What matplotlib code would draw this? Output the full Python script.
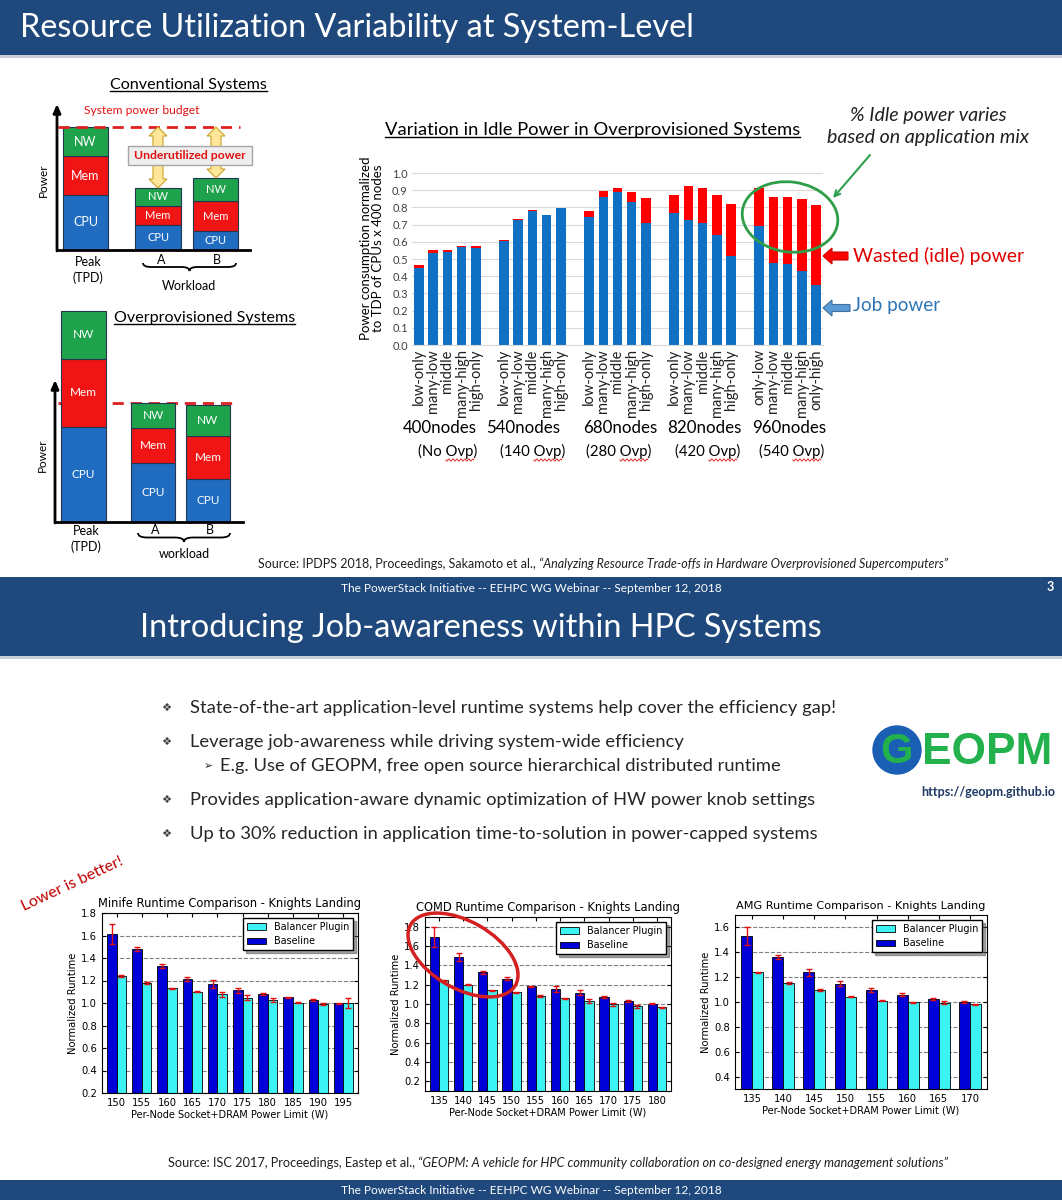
import numpy as np
import matplotlib.pyplot as plt
from matplotlib.patches import Rectangle, Ellipse, Polygon, Circle, PathPatch
from matplotlib.path import Path

W, H = 1062, 1200
SANS = ['Lato', 'DejaVu Sans']
BAND = '#1F497D'

# --- slide 1: conceptual power stacks (arbitrary units) ---
parts = ['CPU', 'Mem', 'NW']
part_colors = ['#1F6CC0', '#F01414', '#1FA24C']
conv_cpu = [55, 25, 19]
conv_mem = [39, 19, 30]
conv_nw = [29, 18, 23]
conv_budget = 123
ovp_cpu = [95, 59, 43]
ovp_mem = [68, 35, 43]
ovp_nw = [48, 25, 31]
ovp_budget = 119

# --- slide 1: idle power in overprovisioned systems ---
mixes = ['low-only', 'many-low', 'middle', 'many-high', 'high-only']
mixes_960 = ['only-low', 'many-low', 'middle', 'many-high', 'only-high']
node_groups = ['400nodes', '540nodes', '680nodes', '820nodes', '960nodes']
ovp_groups = ['(No Ovp)', '(140 Ovp)', '(280 Ovp)', '(420 Ovp)', '(540 Ovp)']
job_power = [0.447, 0.532, 0.538, 0.569, 0.563,
             0.602, 0.726, 0.779, 0.755, 0.794,
             0.746, 0.858, 0.889, 0.833, 0.709,
             0.765, 0.728, 0.709, 0.639, 0.518,
             0.693, 0.476, 0.470, 0.433, 0.350]
idle_power = [0.017, 0.021, 0.015, 0.008, 0.014,
              0.010, 0.008, 0.007, 0.002, 0.004,
              0.031, 0.039, 0.026, 0.056, 0.143,
              0.109, 0.194, 0.202, 0.235, 0.301,
              0.222, 0.386, 0.388, 0.416, 0.462]

# --- slide 2: runtime comparisons ---
minife_w = [150, 155, 160, 165, 170, 175, 180, 185, 190, 195]
minife_base = [1.611, 1.481, 1.328, 1.213, 1.168, 1.115, 1.077, 1.050, 1.027, 0.997]
minife_base_err = [0.09, 0.02, 0.015, 0.015, 0.035, 0.022, 0.01, 0.005, 0.008, 0.005]
minife_bal = [1.239, 1.180, 1.130, 1.100, 1.077, 1.047, 1.027, 1.003, 0.991, 0.997]
minife_bal_err = [0.008, 0.008, 0.005, 0.005, 0.02, 0.02, 0.015, 0.005, 0.005, 0.045]

comd_w = [135, 140, 145, 150, 155, 160, 165, 170, 175, 180]
comd_base = [1.690, 1.485, 1.327, 1.262, 1.183, 1.159, 1.115, 1.077, 1.029, 1.005]
comd_base_err = [0.105, 0.04, 0.015, 0.015, 0.007, 0.03, 0.025, 0.01, 0.01, 0.005]
comd_bal = [1.245, 1.200, 1.142, 1.122, 1.084, 1.060, 1.033, 0.998, 0.978, 0.964]
comd_bal_err = [0.008, 0.008, 0.008, 0.005, 0.01, 0.005, 0.02, 0.015, 0.015, 0.008]

amg_w = [135, 140, 145, 150, 155, 160, 165, 170]
amg_base = [1.530, 1.364, 1.238, 1.147, 1.096, 1.059, 1.024, 1.000]
amg_base_err = [0.075, 0.015, 0.03, 0.02, 0.015, 0.01, 0.01, 0.005]
amg_bal = [1.238, 1.155, 1.099, 1.043, 1.011, 0.997, 0.995, 0.981]
amg_bal_err = [0.005, 0.007, 0.008, 0.005, 0.005, 0.005, 0.01, 0.005]

bullets = ['State-of-the-art application-level runtime systems help cover the efficiency gap!',
           'Leverage job-awareness while driving system-wide efficiency',
           'Provides application-aware dynamic optimization of HW power knob settings',
           'Up to 30% reduction in application time-to-solution in power-capped systems']
sub_bullet = 'E.g. Use of GEOPM, free open source hierarchical distributed runtime'
footer = 'The PowerStack Initiative -- EEHPC WG Webinar -- September 12, 2018'

fig = plt.figure(figsize=(W / 100, H / 100), dpi=100)
R = fig.canvas.get_renderer()

# overlay in pixel coords for slide decoration
ov = fig.add_axes([0, 0, 1, 1], zorder=10)
ov.set_xlim(0, W)
ov.set_ylim(H, 0)
ov.axis('off')


def px_axes(x0, y0, x1, y1):
    return fig.add_axes([x0 / W, 1 - y1 / H, (x1 - x0) / W, (y1 - y0) / H])


def fit(t, width):
    w = t.get_window_extent(R).width
    t.set_fontsize(t.get_fontsize() * width / w)
    return t


def txt(x, y, s, size=10, **kw):
    kw.setdefault('family', SANS)
    kw.setdefault('va', 'center')
    return ov.text(x, y, s, fontsize=size, **kw)


def text_width(s, size, **kw):
    t = txt(0, 0, s, size, **kw)
    w = t.get_window_extent(R).width
    t.remove()
    return w


def underline(t, lw=1):
    bb = t.get_window_extent(R)
    y = H - bb.y0 - 1
    ov.plot([bb.x0, bb.x1], [y, y], color=t.get_color(), lw=lw)


def squiggle(x0, x1, y):
    xs = np.linspace(x0, x1, 60)
    ov.plot(xs, y + 1.1 * np.sin(2 * np.pi * (xs - x0) / 4), color='#E03030', lw=0.7)


def two_part(x, y, a, b, width, color='#202020'):
    t1 = txt(x, y, a, 8, color=color)
    t2 = txt(x, y, b, 8, color=color, style='italic')
    w = t1.get_window_extent(R).width + 3 + t2.get_window_extent(R).width
    s = 8 * width / w
    t1.set_fontsize(s)
    t2.set_fontsize(s)
    t2.set_x(x + t1.get_window_extent(R).width + 3)


def brace(x0, x1, y, h):
    xm = (x0 + x1) / 2
    m = y + h / 2
    verts = [(x0, y), (x0, m), (x0 + h, m), (xm - h, m), (xm, m), (xm, y + h),
             (xm, m), (xm + h, m), (x1 - h, m), (x1, m), (x1, y)]
    codes = [Path.MOVETO, Path.CURVE3, Path.CURVE3, Path.LINETO, Path.CURVE3, Path.CURVE3,
             Path.CURVE3, Path.CURVE3, Path.LINETO, Path.CURVE3, Path.CURVE3]
    ov.add_patch(PathPatch(Path(verts, codes), fc='none', ec='black', lw=1.3))


def double_arrow(x, y0, y1, hw=5, head=9, hl=9):
    pts = [(x, y0), (x + head, y0 + hl), (x + hw, y0 + hl), (x + hw, y1 - hl), (x + head, y1 - hl),
           (x, y1), (x - head, y1 - hl), (x - hw, y1 - hl), (x - hw, y0 + hl), (x - head, y0 + hl)]
    ov.add_patch(Polygon(pts, closed=True, fc='#FFE699', ec='#C9A227', lw=0.8))


def left_arrow(x0, x1, y, hw, head, hl, fc, ec):
    pts = [(x0, y), (x0 + hl, y - head), (x0 + hl, y - hw), (x1, y - hw),
           (x1, y + hw), (x0 + hl, y + hw), (x0 + hl, y + head)]
    ov.add_patch(Polygon(pts, closed=True, fc=fc, ec=ec, lw=0.8))


# ---------------- bands ----------------
for y0, y1 in [(0, 55), (577, 656), (1180, 1200)]:
    ov.add_patch(Rectangle((0, y0), W, y1 - y0, color=BAND, lw=0))
for y0 in [55, 656]:
    ov.add_patch(Rectangle((0, y0), W, 3, color='#C9CED6', lw=0))

fit(txt(20, 28, 'Resource Utilization Variability at System-Level', 22, color='white'), 670)
fit(txt(140, 628, 'Introducing Job-awareness within HPC Systems', 22, color='white'), 678)
for y in [588, 1190]:
    fit(txt(531, y, footer, 8, color='white', ha='center'), 382)
txt(1050, 587, '3', 9, color='white', ha='center', weight='bold')


# ---------------- conceptual diagrams ----------------
def stack_diagram(box, cpu, mem, nw, budget, centers, widths, sizes, line_x, line_z):
    ax = px_axes(*box)
    ax.set_xlim(0, box[2] - box[0])
    ax.set_ylim(0, box[3] - box[1])
    ax.axis('off')
    ax.hlines(budget, line_x[0], line_x[1], colors='#E02020', linestyles=(0, (4, 2.5)), lw=2, zorder=line_z)
    bottom = np.zeros(len(cpu))
    for vals, col, name in zip([cpu, mem, nw], part_colors, parts):
        ax.bar(centers, vals, widths, bottom=bottom, color=col, edgecolor='#24364F', lw=0.8, zorder=2)
        for c, v, b, s in zip(centers, vals, bottom, sizes):
            ax.text(c, b + v / 2, name, color='white', ha='center', va='center', fontsize=s, family=SANS, zorder=4)
        bottom = bottom + np.array(vals)
    return ax


stack_diagram((57, 108, 250, 250), conv_cpu, conv_mem, conv_nw, conv_budget,
              [28.5, 101, 158.5], [45, 46, 45], [9, 8, 8], (1, 183), 3)
stack_diagram((55, 300, 243, 522), ovp_cpu, ovp_mem, ovp_nw, ovp_budget,
              [28.5, 98, 153], [45, 44, 44], [8.5, 8.5, 8.5], (3, 177), 1)

for (x, ytop, ybot, xend) in [(57, 104, 251, 250), (55, 380, 523, 243)]:
    ov.annotate('', xy=(x, ytop), xytext=(x, ybot),
                arrowprops=dict(arrowstyle='-|>,head_width=0.22,head_length=0.5', color='black',
                                lw=2, shrinkA=0, shrinkB=0))
    ov.plot([x, xend], [ybot - 1, ybot - 1], color='black', lw=2)

underline(fit(txt(110, 85, 'Conventional Systems', 11, color='black'), 157))
underline(fit(txt(114, 318, 'Overprovisioned Systems', 11, color='black'), 181))
fit(txt(84, 111, 'System power budget', 8, color='#E01010'), 116)

double_arrow(158, 127, 188)
double_arrow(216, 127, 178)
ov.add_patch(Rectangle((128, 146), 124, 19, fc='#EEEEEE', ec='#A6A6A6', lw=1))
fit(txt(190, 155.5, 'Underutilized power', 9, color='#E01010', ha='center', weight='bold'), 112)

for (x, y) in [(43, 180), (42, 455)]:
    txt(x, y, 'Power', 8.5, rotation=90, ha='center', color='black')
for (x, y1, y2) in [(88, 262, 278), (86, 531, 547)]:
    txt(x, y1, 'Peak', 9, ha='center', color='black')
    txt(x, y2, '(TPD)', 9, ha='center', color='black')
txt(161, 260, 'A', 9, ha='center', color='black')
txt(217, 260, 'B', 9, ha='center', color='black')
brace(143, 236, 263, 8)
txt(189, 286, 'Workload', 9, ha='center', color='black')
txt(155, 530, 'A', 9, ha='center', color='black')
txt(210, 530, 'B', 9, ha='center', color='black')
brace(138, 230, 533, 9)
txt(184, 554, 'workload', 9, ha='center', color='black')

# ---------------- idle power chart ----------------
ax = px_axes(412, 173, 823, 345)
slots = [g * 6 + i for g in range(5) for i in range(5)]
ax.bar(slots, job_power, 0.68, color='#1070C4', zorder=2)
ax.bar(slots, idle_power, 0.68, bottom=job_power, color='#FF0000', zorder=2)
ax.set_xlim(-0.5, 28.5)
ax.set_ylim(0, 1.0)
ax.set_yticks(np.arange(0, 1.01, 0.1))
ax.set_yticklabels(['%.1f' % v for v in np.arange(0, 1.01, 0.1)], family=SANS, fontsize=8, color='#404040')
ax.set_xticks(slots)
ax.set_xticklabels(mixes * 4 + mixes_960, rotation=90, family=SANS, fontsize=10.5, color='#202020')
ax.tick_params(length=0, pad=3)
ax.yaxis.grid(True, color='#D9D9D9', lw=0.8)
ax.set_axisbelow(True)
for s in ['top', 'left', 'right']:
    ax.spines[s].set_visible(False)
ax.spines['bottom'].set_color('#D9D9D9')
ax.set_ylabel('Power consumption normalized\nto TDP of CPUs x 400 nodes', family=SANS, fontsize=9.5,
              linespacing=1.05)
ax.yaxis.set_label_coords(-0.068, 0.56)

underline(fit(txt(385, 130, 'Variation in Idle Power in Overprovisioned Systems', 12, color='black'), 412))
gsize = fit(txt(440, 428, node_groups[0], 12, ha='center', color='black'), 74).get_fontsize()
for x, s in zip([523, 620, 704, 789], node_groups[1:]):
    txt(x, 428, s, gsize, ha='center', color='black')
osize = gsize * 0.88
w_ovp = text_width('Ovp', osize)
w_par = text_width(')', osize)
for x, s in zip([448, 533, 619, 708, 792], ovp_groups):
    t = txt(x, 451, s, osize, ha='center', color='black')
    x1 = t.get_window_extent(R).x1 - w_par
    squiggle(x1 - w_ovp, x1, 460)

lsize = fit(txt(928, 138, 'based on application mix', 12, ha='center', style='italic', color='#202020'), 201).get_fontsize()
txt(928, 115, '% Idle power varies', lsize, ha='center', style='italic', color='#202020')
ov.annotate('', xy=(833, 198), xytext=(870, 155),
            arrowprops=dict(arrowstyle='->', color='#2EA04E', lw=1.5, shrinkA=0, shrinkB=0))
ov.add_patch(Ellipse((790, 217), 96, 70, angle=8, fc='none', ec='#2E9E48', lw=2))
left_arrow(823, 848, 256, 4, 8, 9, '#FF0000', '#D00000')
fit(txt(853, 256, 'Wasted (idle) power', 12, color='#E00000'), 170)
left_arrow(823, 850, 308, 3.5, 8, 9, '#5B9BD5', '#41719C')
fit(txt(853, 306, 'Job power', 12, color='#2E75B6'), 87)

two_part(258, 564, 'Source: IPDPS 2018, Proceedings, Sakamoto et al.,',
         '\u201cAnalyzing Resource Trade-offs in Hardware Overprovisioned Supercomputers\u201d', 694)

# ---------------- slide 2 text ----------------
bsize = fit(txt(190, 708, bullets[0], 12, color='#262626'), 645).get_fontsize()
for y, s in zip([708, 742, 800, 834], bullets):
    if y != 708:
        txt(190, y, s, bsize, color='#262626')
    txt(166, y, '\u2756', bsize * 0.62, ha='center', color='#404040', family=['DejaVu Sans'])
txt(208, 766, '\u27a2', bsize * 0.6, ha='center', color='#262626', family=['DejaVu Sans'])
txt(220, 766, sub_bullet, bsize, color='#262626')

# GEOPM logo
ov.add_patch(Circle((897, 750), 24, color='#1A5FB4'))
txt(897, 752, 'G', 30, ha='center', color='#22B14C', weight='bold', family=['Liberation Sans', 'DejaVu Sans'])
fit(txt(922, 752, 'EOPM', 30, color='#22B14C', weight='bold', family=['Liberation Sans', 'DejaVu Sans']), 130)
fit(txt(921, 792, 'https://geopm.github.io', 9, color='#1F3864', weight='bold'), 134)

lb = fit(txt(72, 884, 'Lower is better!', 12, ha='center', color='#C00000'), 110)
lb.set_rotation(25)

two_part(168, 1163, 'Source: ISC 2017, Proceedings, Eastep et al.,',
         '\u201cGEOPM: A vehicle for HPC community collaboration on co-designed energy management solutions\u201d', 782)


# ---------------- runtime charts ----------------
def runtime_chart(box, title, watts, base, base_err, bal, bal_err, ylim, yticks, w=0.38, tsize=8.3):
    a = px_axes(*box)
    k = np.arange(len(watts))
    ekw = dict(ecolor='#E01010', elinewidth=1, capsize=2.2, capthick=1)
    b1 = a.bar(k - w, base, w, align='edge', color='#0000D8', edgecolor='black', lw=0.6,
               yerr=base_err, error_kw=ekw)
    b2 = a.bar(k, bal, w, align='edge', color='#3DF2F2', edgecolor='black', lw=0.6,
               yerr=bal_err, error_kw=ekw)
    a.set_xlim(-w - 0.2, len(watts) - 1 + w + 0.2)
    a.set_ylim(*ylim)
    a.set_yticks(yticks)
    a.set_xticks(k, [str(v) for v in watts])
    a.tick_params(direction='in', top=True, right=True, labelsize=7.2, length=3)
    a.yaxis.grid(True, ls='--', color='#808080', lw=0.8)
    a.set_axisbelow(True)
    a.set_title(title, fontsize=tsize, pad=4)
    a.set_xlabel('Per-Node Socket+DRAM Power Limit (W)', fontsize=7, labelpad=1)
    a.set_ylabel('Normalized Runtime', fontsize=7.2, labelpad=2)
    a.legend([b2, b1], ['Balancer Plugin', 'Baseline'], loc='upper right', fontsize=6.9,
             shadow=True, fancybox=False, edgecolor='black', framealpha=1, borderaxespad=0.5)
    return a


runtime_chart((102, 913, 358, 1093), 'Minife Runtime Comparison - Knights Landing', minife_w,
              minife_base, minife_base_err, minife_bal, minife_bal_err, (0.2, 1.8), np.arange(0.2, 1.81, 0.2))
runtime_chart((425, 917, 671, 1091), 'COMD Runtime Comparison - Knights Landing', comd_w,
              comd_base, comd_base_err, comd_bal, comd_bal_err, (0.1, 1.9), np.arange(0.2, 1.81, 0.2))
runtime_chart((735, 915, 987, 1089), 'AMG Runtime Comparison - Knights Landing', amg_w,
              amg_base, amg_base_err, amg_bal, amg_bal_err, (0.3, 1.7), np.arange(0.4, 1.61, 0.2),
              w=0.35, tsize=8.1)

ov.add_patch(Ellipse((463, 955), 121, 67, angle=30, fc='none', ec='#D42020', lw=2.5))

fig.savefig('out.png', dpi=100)
